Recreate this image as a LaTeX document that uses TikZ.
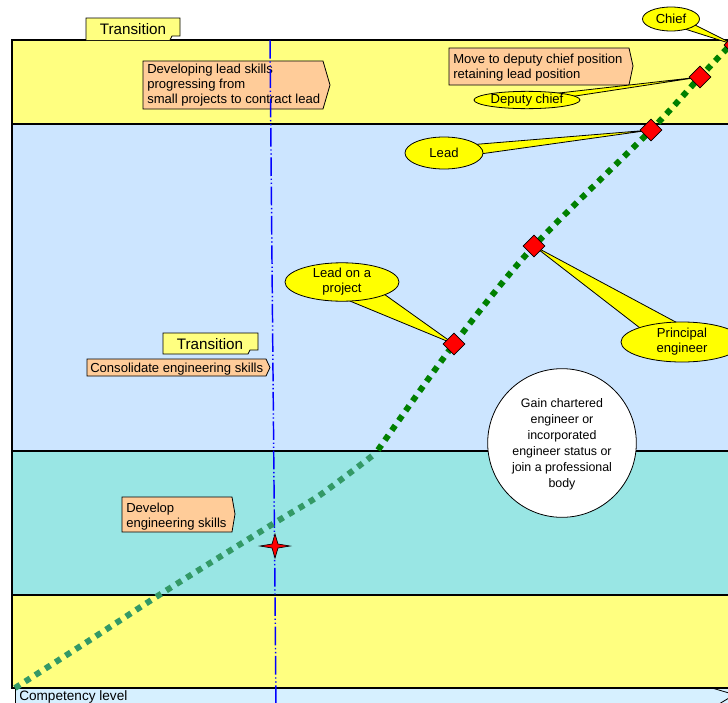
\documentclass[tikz,border=0pt]{standalone}
\usepackage{fontspec}
\setmainfont{Liberation Sans}
\usetikzlibrary{shapes.geometric,calc}
\definecolor{bandyellow}{RGB}{255,255,128}
\definecolor{bandblue}{RGB}{204,229,255}
\definecolor{bandcyan}{RGB}{153,230,228}
\definecolor{stripblue}{RGB}{214,240,255}
\definecolor{peach}{RGB}{255,204,153}
\definecolor{calloutyellow}{RGB}{255,255,0}
\definecolor{darkgreen}{RGB}{0,128,0}
\definecolor{seagreen}{RGB}{51,153,102}
\tikzset{
  bandline/.style={draw=black, line width=1.1pt},
  peachbox/.style={draw=black, fill=peach, line width=0.6pt, line join=miter},
  tabbox/.style={draw=black, fill=bandyellow, line width=0.6pt},
  boxtext/.style={inner sep=0pt, align=left, font=\fontsize{9.8}{11.25}\selectfont},
  callout/.style={ellipse, draw=black, fill=calloutyellow, line width=0.6pt, inner sep=0pt, align=center, font=\fontsize{9.8}{11.25}\selectfont},
  tail/.style={draw=black, fill=calloutyellow, line width=0.6pt, line join=round},
  milestone/.style={diamond, draw=black, fill=red, line width=0.6pt, minimum width=16.5pt, minimum height=16.5pt, inner sep=0pt},
  pathA/.style={seagreen, line width=4.5pt, dash pattern=on 4.5pt off 4.5pt},
  pathB/.style={darkgreen, line width=4.5pt, dash pattern=on 4.5pt off 4.5pt},
  cutline/.style={blue, line width=1.1pt, dash pattern=on 14pt off 2pt on 1pt off 2pt on 1pt off 2pt},
  goalshape/.style={ellipse, draw=black, fill=white, line width=0.6pt, inner sep=0pt},
  goaltext/.style={inner sep=0pt, align=center, font=\fontsize{9.3}{12}\selectfont},
}
\begin{document}
\begin{tikzpicture}[x=0.75pt,y=-0.75pt]
\useasboundingbox (0,0) rectangle (728,703);
\clip (0,0) rectangle (728,703);
% bands
\fill[bandyellow] (12,40) rectangle (740,124);
\fill[bandblue] (12,124) rectangle (740,451);
\fill[bandcyan] (12,451) rectangle (740,595);
\fill[bandyellow] (12,595) rectangle (740,688);
\fill[stripblue] (15,688) rectangle (740,710);
\draw[bandline] (740,40) -- (12,40) -- (12,688) -- (740,688);
\draw[bandline] (12,124) -- (740,124);
\draw[bandline] (12,451) -- (740,451);
\draw[bandline] (12,595) -- (740,595);
\draw[black, line width=0.6pt] (15,688) -- (15,710);
\draw[black, line width=0.6pt] (712,688) -- (729,693) (729,698) -- (719,704);
\node[boxtext, anchor=base west, font=\fontsize{10.2}{12}\selectfont] (comp) at (19,700) {Competency level};
% transition tabs
\draw[tabbox] (86,40) -- (86,18) -- (180,18) -- (180,36) -- (172,36) -- (170,40);
\node[boxtext, font=\fontsize{11.4}{13}\selectfont] (tr1) at (133,29) {Transition};
\draw[tabbox] (163,354) -- (163,333) -- (258,333) -- (258,350) -- (250,350) -- (248,354) -- cycle;
\node[boxtext, font=\fontsize{11.4}{13}\selectfont] (tr2) at (210,344) {Transition};
% peach arrows
\draw[peachbox] (143,61) -- (323,61) -- (330,85) -- (323,109) -- (143,109) -- cycle;
\node[boxtext, anchor=north west] (dev-lead) at (147,63.5) {Developing lead skills\\progressing from\\small projects to contract lead};
\draw[peachbox] (449,48) -- (629,48) -- (633,66) -- (629,85) -- (449,85) -- cycle;
\node[boxtext, anchor=north west] (deputy-move) at (453,53.5) {Move to deputy chief position\\retaining lead position};
\draw[peachbox] (87,359) -- (266,359) -- (270,367.5) -- (266,376) -- (87,376) -- cycle;
\node[boxtext, anchor=base west] (consolidate) at (90,372) {Consolidate engineering skills};
\draw[peachbox] (122,497) -- (232,497) -- (235,514) -- (232,532) -- (122,532) -- cycle;
\node[boxtext, anchor=north west] (develop) at (126,502.5) {Develop\\engineering skills};
% blue vertical line
\coordinate (vtop) at (270,40);
\coordinate (vbot) at (276,705);
\draw[cutline] (vtop) -- (vbot);
% green progression
\draw[pathA] plot[smooth, tension=0.5] coordinates {(15,688) (90,640) (167,590) (276,522) (320,495) (376,453)};
\draw[pathB] plot[smooth, tension=0.5] coordinates {(378,450) (454,344) (534,246) (651,130) (700,77) (735,40) (748,26)};
% milestone coordinates
\coordinate (m1) at (454,344);
\coordinate (m2) at (534,246);
\coordinate (m3) at (651,130);
\coordinate (m4) at (700,77);
\coordinate (m5) at (735,45);
% callout centres
\coordinate (c1) at (342,282);
\coordinate (c2) at (682,342);
\coordinate (c3) at (444,153);
\coordinate (c4) at (527,100);
\coordinate (c5) at (671,19);
% tails
\draw[tail] ($(c1)!11pt!90:(m1)$) -- (m1) -- ($(c1)!11pt!-90:(m1)$) -- cycle;
\draw[tail] ($(c2)!11pt!90:(m2)$) -- (m2) -- ($(c2)!11pt!-90:(m2)$) -- cycle;
\draw[tail] ($(c3)!4.5pt!90:(m3)$) -- (m3) -- ($(c3)!4.5pt!-90:(m3)$) -- cycle;
\draw[tail] ($(c4)!2.5pt!90:(m4)$) -- (m4) -- ($(c4)!2.5pt!-90:(m4)$) -- cycle;
\draw[tail] ($(c5)!4pt!90:(m5)$) -- (m5) -- ($(c5)!4pt!-90:(m5)$) -- cycle;
% callouts
\node[callout, minimum width=85.5pt, minimum height=28pt] (lead-project) at (c1) {Lead on a\\project};
\node[callout, minimum width=91.5pt, minimum height=30pt] (principal) at (c2) {Principal\\engineer};
\node[callout, minimum width=58.5pt, minimum height=24pt] (lead) at (c3) {Lead};
\node[callout, minimum width=79.5pt, minimum height=13pt] (deputy) at (c4) {Deputy chief};
\node[callout, minimum width=42.75pt, minimum height=18pt] (chief) at (c5) {Chief};
% milestones
\node[milestone] (d1) at (m1) {};
\node[milestone] (d2) at (m2) {};
\node[milestone] (d3) at (m3) {};
\node[milestone] (d4) at (m4) {};
\node[milestone] (d5) at (m5) {};
% goal circle
\node[goalshape, minimum width=111.5pt, minimum height=111.5pt] (goal) at (562,443) {};
\node[goaltext] (goal-text) at (562,444) {Gain chartered\\engineer or\\incorporated\\engineer status or\\join a professional\\body};
% star marker
\coordinate (star) at (275,546);
\draw[fill=red, draw=black, line width=0.5pt] ($(star)+(-15,0)$) -- ($(star)+(-3,-2)$) -- ($(star)+(0,-12)$) -- ($(star)+(3,-2)$) -- ($(star)+(15,0)$) -- ($(star)+(3,2)$) -- ($(star)+(0,12)$) -- ($(star)+(-3,2)$) -- cycle;
\end{tikzpicture}
\end{document}
